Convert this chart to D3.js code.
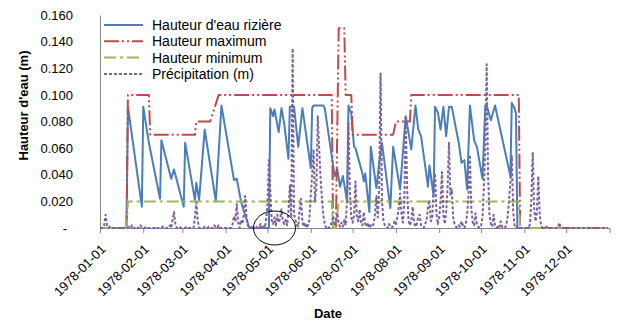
<!DOCTYPE html>
<html>
<head>
<meta charset="utf-8">
<script src="https://cdn.jsdelivr.net/npm/d3@7/dist/d3.min.js"></script>
<style>
  html, body { margin: 0; padding: 0; background: #fff; }
  svg { display: block; font-family: "Liberation Sans", Arial, sans-serif; }
</style>
</head>
<body>
<svg id="chart" width="620" height="326"></svg>
<script>
// Daily rainfall (mm), one array per month of 1978
const rainJan = [0,0,0,2,10,2,0,1,0,0, 0,0,0,0,0,0,0,0,0,0, 0,1,0,2,0,0,1,0,0,2, 0];
const rainFeb = [0,0,1,0,0,0,0,0,0,1, 0,0,0,0,1,0,0,0,0,2, 0,6,12,3,0,0,1,0];
const rainMar = [0,0,0,1,0,0,0,0,0,8, 19,6,0,0,0,0,1,0,0,1, 0,0,0,2,0,0,2,0,0,0, 0];
const rainApr = [0,0,0,0,0,3,9,5,18,4, 0,6,3,10,24,8,2,0,0,2, 0,0,1,0,0,3,0,2,0,6];
const rainMay = [18,51,28,6,3,8,2,10,4,7, 14,5,3,6,2,12,32,8,135,10, 6,2,1,14,22,5,1,4,0,2, 6];
const rainJun = [25,40,59,20,30,84,60,38,22,10, 3,0,1,0,2,4,9,3,5,11, 3,1,4,1,6,2,22,79,28,8];
const rainJul = [4,10,35,8,5,14,3,2,12,3, 1,4,0,2,1,3,10,24,8,30, 116,20,6,2,1,0,3,1,0,2, 5];
const rainAug = [3,8,15,26,10,4,20,83,30,6, 2,5,16,4,1,3,8,10,2,1, 0,3,6,16,21,5,8,29,41,12, 3];
const rainSep = [8,20,42,10,3,12,30,64,25,29, 8,3,1,0,2,1,5,2,0,3, 10,25,55,15,4,2,11,3,1,0];
const rainOct = [2,8,30,60,123,40,10,3,1,10, 2,0,1,0,5,1,0,0,2,8, 20,35,54,12,2,0,1,0,0,0, 0];
const rainNov = [0,0,0,0,3,20,57,15,5,12, 39,10,2,0,0,0,1,0,0,0, 0,0,0,0,0,4,1,0,0,0];
const rainDec = [0,0,0,0,0,0,0,0,0,0, 0,0,0,0,0,0,0,0,0,0, 0,0,0,0,0,0,0,0,0,0, 0];

// Paddy water depth (m): [day of year (0 = 1 Jan), depth]
const waterLevel = [
  [0,0],[19,0],[20,0.091],[30,0.016],[31,0.091],[35,0.064],[43,0.022],[44,0.066],
  [51,0.037],[53,0.044],[60,0.016],[61,0.064],[68,0.021],[69,0.034],[71,0.021],
  [75,0.074],[83,0.020],[87,0.092],[96,0.036],[98,0.037],[101,0.020],[103,0.013],
  [107,0],[121,0],[122,0.090],[124,0.084],[125,0.089],[128,0.072],[130,0.090],
  [132,0.078],[135,0.052],[136,0.091],[139,0.091],[142,0.061],[145,0.090],
  [151,0.045],[152,0.090],[153,0.092],[160,0.092],[161,0.090],[167,0.047],
  [168,0.039],[170,0.044],[172,0.031],[174,0.039],[177,0.020],[178,0.092],
  [180,0.086],[182,0.061],[183,0.060],[188,0.041],[189,0.035],[190,0.041],
  [193,0.012],[194,0.061],[198,0.030],[200,0.049],[202,0.064],[208,0.015],
  [210,0.061],[215,0.029],[219,0.084],[223,0.059],[226,0.092],[228,0.074],
  [230,0.069],[235,0.031],[236,0.047],[239,0.024],[240,0.091],[242,0.087],
  [244,0.074],[246,0.091],[248,0.069],[250,0.091],[252,0.091],[257,0.064],
  [259,0.049],[261,0.051],[263,0.029],[265,0.092],[268,0.066],[270,0.061],
  [274,0.037],[276,0.092],[277,0.092],[280,0.081],[283,0.092],[294,0.039],
  [295,0.094],[297,0.090],[298,0.086],[299,0],[364,0]
];

// Upper and lower water depth limits (m): [day of year, depth]
const maxLevel = [
  [0,0],[19,0],[20,0.1],[35,0.1],[36,0.07],[68,0.07],[69,0.08],[79,0.08],[85,0.1],
  [166,0.1],[167,0],[169,0],[171,0.15],[175,0.15],[176,0.1],[180,0.1],[181,0.07],
  [210,0.07],[212,0.08],[222,0.08],[223,0.1],[300,0.1],[301,0],[364,0]
];
const minLevel = [
  [0,0],[19,0],[20,0.02],[166,0.02],[167,0],[169,0],[171,0.02],[300,0.02],[301,0],[364,0]
];

const seriesNames = ["Hauteur d'eau rizière", "Hauteur maximum", "Hauteur minimum", "Précipitation (m)"];
const seriesColors = ["#4a7ebb", "#be4b48", "#98b954", "#7d60a0"];
const seriesDashes = [null, "15,3,2,3,2,3", "12,4,3,4", "3,2"];
const yTicks = [0, 0.02, 0.04, 0.06, 0.08, 0.10, 0.12, 0.14, 0.16];
const monthTicks = ["1978-01-01","1978-02-01","1978-03-01","1978-04-01","1978-05-01","1978-06-01",
                    "1978-07-01","1978-08-01","1978-09-01","1978-10-01","1978-11-01","1978-12-01","1979-01-01"];

const parseDate = d3.timeParse("%Y-%m-%d");
const start = parseDate("1978-01-01");
const dayDate = i => d3.timeDay.offset(start, i);

const rainDaily = [].concat(rainJan, rainFeb, rainMar, rainApr, rainMay, rainJun,
                            rainJul, rainAug, rainSep, rainOct, rainNov, rainDec)
  .map((mm, i) => ({ date: dayDate(i), value: mm / 1000 }));
const toPoints = arr => arr.map(([i, v]) => ({ date: dayDate(i), value: v }));

const svg = d3.select("#chart");
const plotLeft = 100, plotRight = 609.5, plotTop = 15, plotBottom = 228;

const x = d3.scaleTime().domain([start, parseDate("1979-01-01")]).range([plotLeft, plotRight]);
const y = d3.scaleLinear().domain([0, 0.16]).range([plotBottom, plotTop]);

// Axes
const axisColor = "#868686";
const yAxis = svg.append("g")
  .attr("transform", `translate(${plotLeft},0)`)
  .call(d3.axisLeft(y).tickValues(yTicks).tickSize(0).tickPadding(27)
    .tickFormat(v => v === 0 ? "-" : d3.format(".3f")(v)));
yAxis.select(".domain").attr("stroke", axisColor);
yAxis.selectAll("text").attr("font-size", 13).attr("fill", "#000")
  .attr("font-family", "Liberation Sans, Arial, sans-serif");
yAxis.selectAll(".tick").filter(v => v === 0).select("text").attr("x", -33);

const xAxis = svg.append("g")
  .attr("transform", `translate(0,${plotBottom})`)
  .call(d3.axisBottom(x).tickValues(monthTicks.map(parseDate))
    .tickSizeInner(5).tickSizeOuter(0)
    .tickFormat((d, i) => i < monthTicks.length - 1 ? d3.timeFormat("%Y-%m-%d")(d) : ""));
xAxis.select(".domain").attr("stroke", axisColor);
xAxis.selectAll(".tick line").attr("stroke", axisColor);
xAxis.selectAll("text")
  .attr("font-size", 13).attr("fill", "#000")
  .attr("font-family", "Liberation Sans, Arial, sans-serif")
  .attr("text-anchor", "end")
  .attr("x", 0).attr("y", 0).attr("dy", 0)
  .attr("transform", "translate(6,22) rotate(-45)");

// Axis titles
svg.append("text")
  .attr("transform", `translate(28,${(plotTop + plotBottom) / 2 - 16}) rotate(-90)`)
  .attr("text-anchor", "middle")
  .attr("font-size", 13).attr("font-weight", "bold")
  .text("Hauteur d'eau (m)");
svg.append("text")
  .attr("x", 328).attr("y", 318)
  .attr("text-anchor", "middle")
  .attr("font-size", 13).attr("font-weight", "bold")
  .text("Date");

// Series lines
const line = d3.line().x(d => x(d.date)).y(d => y(d.value));
const seriesData = [toPoints(waterLevel), toPoints(maxLevel), toPoints(minLevel), rainDaily];
seriesData.forEach((data, k) => {
  svg.append("path")
    .datum(data)
    .attr("fill", "none")
    .attr("stroke", seriesColors[k])
    .attr("stroke-width", 2)
    .attr("stroke-linejoin", "round")
    .attr("stroke-dasharray", seriesDashes[k])
    .attr("d", line);
});

// Highlight ring around early-May rain at the start of the second flooding
svg.append("ellipse")
  .attr("cx", x(parseDate("1978-05-06")))
  .attr("cy", y(0))
  .attr("rx", 21).attr("ry", 17)
  .attr("fill", "none").attr("stroke", "#000").attr("stroke-width", 1);

// Legend
const legend = svg.append("g");
seriesNames.forEach((name, k) => {
  const ly = 25 + k * 16.3;
  legend.append("line")
    .attr("x1", 104).attr("x2", 143).attr("y1", ly).attr("y2", ly)
    .attr("stroke", seriesColors[k]).attr("stroke-width", 2)
    .attr("stroke-dasharray", seriesDashes[k]);
  legend.append("text")
    .attr("x", 152).attr("y", ly).attr("dy", "0.35em")
    .attr("font-size", 14).attr("fill", "#000")
    .text(name);
});
</script>
</body>
</html>
